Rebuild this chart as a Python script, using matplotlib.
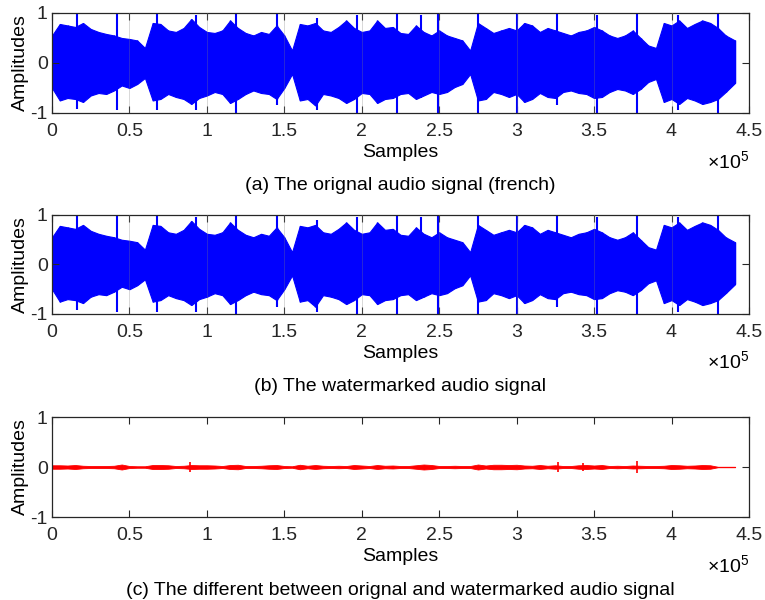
import numpy as np
import matplotlib
matplotlib.use("Agg")
import matplotlib.pyplot as plt

# envelope of the signals, every 5000 samples (0 .. 4.40e5)
step = 5000
orig_upper = [0.55, 0.78, 0.75, 0.72, 0.80, 0.68, 0.62, 0.58, 0.55, 0.50,
              0.48, 0.45, 0.30, 0.80, 0.78, 0.65, 0.62, 0.70, 0.88, 0.72,
              0.62, 0.60, 0.65, 0.85, 0.70, 0.60, 0.55, 0.62, 0.58, 0.75,
              0.55, 0.25, 0.78, 0.75, 0.80, 0.65, 0.62, 0.72, 0.85, 0.70,
              0.62, 0.65, 0.85, 0.70, 0.72, 0.60, 0.58, 0.75, 0.62, 0.55,
              0.65, 0.55, 0.50, 0.45, 0.25, 0.80, 0.70, 0.60, 0.65, 0.70,
              0.65, 0.80, 0.75, 0.62, 0.70, 0.65, 0.60, 0.55, 0.62, 0.65,
              0.72, 0.65, 0.55, 0.50, 0.55, 0.65, 0.50, 0.35, 0.30, 0.80,
              0.75, 0.85, 0.70, 0.78, 0.85, 0.80, 0.70, 0.55, 0.45]
orig_lower = [-0.50, -0.75, -0.70, -0.72, -0.78, -0.65, -0.60, -0.62, -0.55, -0.45,
              -0.50, -0.42, -0.30, -0.75, -0.72, -0.62, -0.68, -0.72, -0.82, -0.70,
              -0.65, -0.58, -0.62, -0.80, -0.72, -0.62, -0.55, -0.60, -0.62, -0.72,
              -0.50, -0.22, -0.75, -0.72, -0.85, -0.62, -0.65, -0.70, -0.80, -0.72,
              -0.60, -0.62, -0.80, -0.72, -0.70, -0.62, -0.60, -0.72, -0.65, -0.58,
              -0.62, -0.58, -0.48, -0.42, -0.22, -0.75, -0.72, -0.58, -0.62, -0.68,
              -0.62, -0.78, -0.72, -0.60, -0.68, -0.70, -0.58, -0.55, -0.60, -0.62,
              -0.70, -0.68, -0.58, -0.52, -0.55, -0.62, -0.52, -0.38, -0.32, -0.78,
              -0.72, -0.82, -0.70, -0.75, -0.82, -0.78, -0.72, -0.58, -0.40]

# short loud peaks (sample, top, bottom)
peak_pos = [16000, 42000, 68000, 93000, 119000, 145000, 171000, 197000, 223000,
            238000, 249000, 275000, 300000, 326000, 352000, 378000, 404000, 430000]
peak_top = [1.0, 1.0, 1.0, 0.95, 1.0, 1.0, 0.9, 0.95, 1.0,
            0.95, 1.0, 1.0, 1.0, 1.0, 0.95, 1.0, 0.95, 1.0]
peak_bot = [-0.92, -0.95, -0.95, -0.95, -1.0, -0.85, -0.95, -1.0, -1.0,
            -0.7, -1.0, -1.0, -1.0, -0.85, -1.0, -1.0, -0.95, -1.0]

# difference signal envelope (same 5000 sample grid)
diff_env = [0.035, 0.035, 0.030, 0.040, 0.025, 0.020, 0.020, 0.020, 0.025, 0.050,
            0.020, 0.015, 0.015, 0.040, 0.040, 0.035, 0.020, 0.025, 0.040, 0.035,
            0.035, 0.030, 0.020, 0.040, 0.045, 0.020, 0.020, 0.025, 0.035, 0.040,
            0.020, 0.015, 0.045, 0.025, 0.040, 0.025, 0.020, 0.025, 0.020, 0.040,
            0.030, 0.020, 0.040, 0.025, 0.030, 0.020, 0.020, 0.035, 0.050, 0.040,
            0.020, 0.020, 0.025, 0.020, 0.020, 0.050, 0.030, 0.045, 0.045, 0.040,
            0.045, 0.030, 0.025, 0.040, 0.025, 0.035, 0.020, 0.020, 0.035, 0.040,
            0.030, 0.040, 0.020, 0.025, 0.020, 0.030, 0.025, 0.020, 0.020, 0.025,
            0.040, 0.035, 0.025, 0.030, 0.040, 0.035, 0.004, 0.004, 0.004]
diff_peak_pos = [89000, 327000, 343000, 378000]
diff_peak_amp = [0.10, 0.10, 0.08, 0.12]

n_samples = 441000
xticks = [0, 50000, 100000, 150000, 200000, 250000, 300000, 350000, 400000, 450000]
xlabels = ["0", "0.5", "1", "1.5", "2", "2.5", "3", "3.5", "4", "4.5"]
captions = ["(a) The orignal audio signal (french)",
            "(b) The watermarked audio signal",
            "(c) The different between orignal and watermarked audio signal"]

plt.rcParams['font.family'] = ['Liberation Sans', 'DejaVu Sans']
plt.rcParams['mathtext.fontset'] = 'custom'
plt.rcParams['mathtext.rm'] = 'Liberation Sans'

def style(ax, caption, grid):
	ax.set_xlim(0, 450000)
	ax.set_ylim(-1, 1)
	ax.set_xticks(xticks)
	ax.set_xticklabels(xlabels)
	ax.set_yticks([-1, 0, 1])
	ax.set_yticklabels(["-1", "0", "1"])
	ax.tick_params(direction='in', length=5, width=0.8, top=True, right=True,
		labelsize=14, colors='#262626', pad=7)
	ax.tick_params(axis='y', pad=3)
	for sp in ax.spines.values():
		sp.set_color('#262626')
		sp.set_linewidth(0.9)
	ax.set_ylabel("Amplitudes", fontsize=14, labelpad=1)
	ax.set_xlabel("Samples", fontsize=14, labelpad=3)
	ax.text(1.0, -0.48, r"$\times\mathregular{10^5}$", transform=ax.transAxes,
		ha='right', va='center', fontsize=14)
	ax.text(0.5, -0.73, caption, transform=ax.transAxes,
		ha='center', va='center', fontsize=14)
	if grid:
		for t in xticks[1:-1]:
			ax.axvline(t, color='#808080', lw=0.7, alpha=0.3, zorder=5)

def main():
	fig = plt.figure(figsize=(7.65, 6.0), dpi=100)
	boxes = [[0.068, 0.8117, 0.911, 0.1667],
	         [0.068, 0.4767, 0.911, 0.165],
	         [0.068, 0.1383, 0.911, 0.1667]]

	x = np.arange(len(orig_upper)) * step
	x[-1] = n_samples

	for k in range(2):
		ax = fig.add_axes(boxes[k])
		ax.fill_between(x, orig_lower, orig_upper, color='#0000ff', lw=0.8, edgecolor='#0000ff')
		ax.vlines(x, orig_lower, orig_upper, color='#0000ff', lw=1.0)
		ax.vlines(peak_pos, peak_bot, peak_top, color='#0000ff', lw=1.5)
		style(ax, captions[k], True)

	ax = fig.add_axes(boxes[2])
	d = np.array(diff_env)
	ax.plot([0, n_samples], [0, 0], color='#ff0000', lw=0.8)
	ax.fill_between(x, -d, d, color='#ff0000', lw=0.6, edgecolor='#ff0000')
	ax.vlines(diff_peak_pos, [-a for a in diff_peak_amp], diff_peak_amp, color='#ff0000', lw=1.2)
	style(ax, captions[2], False)

	fig.savefig("out.png", dpi=100)

main()
